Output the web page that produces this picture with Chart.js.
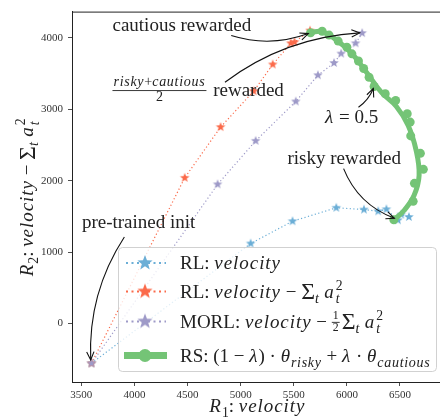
<!DOCTYPE html>
<html>
<head>
<meta charset="utf-8">
<script src="https://cdn.jsdelivr.net/npm/chart.js@4.4.0/dist/chart.umd.min.js"></script>
<style>
  html, body { margin: 0; padding: 0; background: #fff; overflow: hidden; width: 440px; height: 418px; }
  #wrap { width: 448px; height: 418px; }
</style>
</head>
<body>
<div id="wrap"><canvas id="chart" width="448" height="418"></canvas></div>
<script>
// values
const xTicks = [3500, 4000, 4500, 5000, 5500, 6000, 6500]
const yTicks = [0, 1000, 2000, 3000, 4000]

// RL: velocity
const rlX = [3595, 5094, 5488, 5900, 6161, 6295, 6372, 6481, 6512, 6584]
const rlY = [-560, 1119, 1431, 1620, 1594, 1571, 1599, 1445, 1524, 1491]
// RL: velocity - sum a^2
const penX = [3595, 4473, 4811, 5122, 5302, 5472, 5507, 5653]
const penY = [-560, 2039, 2750, 3253, 3627, 3924, 3941, 4102]
// MORL: velocity - 1/2 sum a^2
const morlX = [3595, 4783, 5141, 5519, 5727, 5879, 5946, 6082, 6144]
const morlY = [-560, 1948, 2557, 3109, 3477, 3648, 3780, 3924, 4067]
// RS: interpolated weights, evaluated points
const rsX = [5658, 5767, 5832, 5918, 6000, 6047, 6109, 6158, 6209, 6256, 6361, 6459, 6568, 6596, 6601, 6692, 6720, 6636, 6624, 6442]
const rsY = [4070, 4092, 4039, 3955, 3869, 3776, 3676, 3571, 3449, 3319, 3217, 3123, 2937, 2820, 2627, 2382, 2158, 1962, 1710, 1452]
// RS: smooth curve
const rsCurveX = [5656, 5767, 5907, 6047, 6186, 6326, 6466, 6577, 6652, 6680, 6633, 6540, 6438]
const rsCurveY = [4074, 4088, 3962, 3780, 3515, 3235, 3039, 2773, 2424, 2074, 1795, 1585, 1445]

const BLUE = '#6baed6', RED = '#fb6a4a', PURPLE = '#9e9ac8', GREEN = '#74c476'
const SERIF = '"Liberation Serif", "DejaVu Serif", serif'
const TXT = 19

const pts = (xs, ys) => xs.map((x, i) => ({x: x, y: ys[i]}))

function makeStar (color, r) {
    const c = document.createElement('canvas')
    c.width = c.height = Math.ceil(2 * r + 2)
    const g = c.getContext('2d')
    g.translate(c.width / 2, c.height / 2)
    g.beginPath()
    for (let i = 0; i < 10; i++) {
        const rr = i % 2 ? r * 0.42 : r
        const a = -Math.PI / 2 + i * Math.PI / 5
        g.lineTo(rr * Math.cos(a), rr * Math.sin(a))
    }
    g.closePath()
    g.fillStyle = color
    g.fill()
    return c
}

// rich text: roman, italic, subscripts, stacked sup/sub, small fractions
function runs (ctx, list, x, y, size, draw) {
    const x0 = x
    for (const r of list) {
        if (r.k === 'frac') {
            const s = size * r.scale
            const wn = runs(ctx, r.num, 0, 0, s, false)
            const wd = runs(ctx, r.den, 0, 0, s, false)
            const w = Math.max(wn, wd) + 2
            if (draw) {
                const bar = y - 0.27 * size
                runs(ctx, r.num, x + (w - wn) / 2, bar - 0.3 * s, s, true)
                runs(ctx, r.den, x + (w - wd) / 2, bar + 0.75 * s, s, true)
                ctx.save()
                ctx.strokeStyle = ctx.fillStyle
                ctx.lineWidth = 0.9
                ctx.beginPath()
                ctx.moveTo(x, bar)
                ctx.lineTo(x + w, bar)
                ctx.stroke()
                ctx.restore()
            }
            x += w + 2
            continue
        }
        if (r.k === 'ss') {
            ctx.font = (size * 0.72) + 'px ' + SERIF
            const w = Math.max(ctx.measureText(r.sup).width, ctx.measureText(r.sub).width)
            if (draw) {
                ctx.fillText(r.sup, x + 1, y - 0.42 * size)
                ctx.font = 'italic ' + (size * 0.72) + 'px ' + SERIF
                ctx.fillText(r.sub, x + 1, y + 0.3 * size)
            }
            x += w + 2
            continue
        }
        let s = size, dy = 0, it = false
        if (r.k === 'i') it = true
        if (r.k === 'isub') { it = true; s = size * 0.74; dy = 0.28 * size }
        if (r.k === 'sub') { s = size * 0.72; dy = 0.25 * size }
        if (r.k === 'sum') { s = size * 1.25; dy = 0.1 * size }
        ctx.font = (it ? 'italic ' : '') + s + 'px ' + SERIF
        const t = r.k === 'sum' ? 'Σ' : r.t
        const sp = it ? 0.05 * s : 0
        ctx.letterSpacing = '0px'
        const w = ctx.measureText(t).width + sp * t.length
        if (draw) {
            ctx.letterSpacing = sp + 'px'
            ctx.fillText(t, x, y + dy)
            ctx.letterSpacing = '0px'
        }
        x += w
    }
    return x - x0
}

const sumA2 = [{k: 'sum'}, {k: 'isub', t: 't'}, {k: 'r', t: ' '}, {k: 'i', t: 'a'}, {k: 'ss', sup: '2', sub: 't'}]

const legendItems = [
    {color: BLUE, star: true, y: 269, text: [{k: 'r', t: 'RL: '}, {k: 'i', t: 'velocity'}]},
    {color: RED, star: true, y: 297.5, text: [{k: 'r', t: 'RL: '}, {k: 'i', t: 'velocity'}, {k: 'r', t: ' − '}].concat(sumA2)},
    {color: PURPLE, star: true, y: 327.5, text: [{k: 'r', t: 'MORL: '}, {k: 'i', t: 'velocity'}, {k: 'r', t: ' − '},
        {k: 'frac', scale: 0.62, num: [{k: 'r', t: '1'}], den: [{k: 'r', t: '2'}]}].concat(sumA2)},
    {color: GREEN, star: false, y: 361.5, text: [{k: 'r', t: 'RS: (1 − '}, {k: 'i', t: 'λ'}, {k: 'r', t: ') · '},
        {k: 'i', t: 'θ'}, {k: 'isub', t: 'risky'}, {k: 'r', t: ' + '}, {k: 'i', t: 'λ'}, {k: 'r', t: ' · '},
        {k: 'i', t: 'θ'}, {k: 'isub', t: 'cautious'}]}
]

// annotations in data units
const labels = [
    {x: 3793, y: 4102, text: [{k: 'r', t: 'cautious rewarded'}]},
    {x: 3793, y: 3190, text: [{k: 'frac', scale: 0.74, num: [{k: 'i', t: 'risky'}, {k: 'r', t: '+'}, {k: 'i', t: 'cautious'}], den: [{k: 'r', t: '2'}]},
        {k: 'r', t: ' rewarded'}]},
    {x: 5795, y: 2801, text: [{k: 'i', t: 'λ'}, {k: 'r', t: ' = 0.5'}]},
    {x: 5441, y: 2240, text: [{k: 'r', t: 'risky rewarded'}]},
    {x: 3505, y: 1333, text: [{k: 'r', t: 'pre-trained init'}]}
]
const arrows = [
    {from: [4911, 4032], to: [5637, 4060], rad: 0.17},
    {from: [4852, 3379], to: [6121, 4070], rad: -0.15},
    {from: [6109, 3029], to: [6249, 3291], rad: 0.15},
    {from: [5969, 2168], to: [6447, 1473], rad: 0.22},
    {from: [3905, 1211], to: [3588, -513], rad: 0.16}
]

function drawArrow (ctx, p0, p1, rad) {
    const dx = p1.x - p0.x, dy = p1.y - p0.y
    const cx = (p0.x + p1.x) / 2 - rad * dy, cy = (p0.y + p1.y) / 2 + rad * dx
    ctx.beginPath()
    ctx.moveTo(p0.x, p0.y)
    ctx.quadraticCurveTo(cx, cy, p1.x, p1.y)
    ctx.stroke()
    const a = Math.atan2(p1.y - cy, p1.x - cx), L = 9, sp = 0.42
    ctx.beginPath()
    ctx.moveTo(p1.x - L * Math.cos(a - sp), p1.y - L * Math.sin(a - sp))
    ctx.lineTo(p1.x, p1.y)
    ctx.lineTo(p1.x - L * Math.cos(a + sp), p1.y - L * Math.sin(a + sp))
    ctx.stroke()
}

const overlay = {
    id: 'overlay',
    afterDraw (chart) {
        const ctx = chart.ctx, a = chart.chartArea
        const sx = chart.scales.x, sy = chart.scales.y
        const P = (v) => ({x: sx.getPixelForValue(v[0]), y: sy.getPixelForValue(v[1])})
        ctx.save()
        // top and right spines
        ctx.strokeStyle = '#222'
        ctx.lineWidth = 1
        ctx.beginPath()
        ctx.moveTo(a.left, a.top + 0.5)
        ctx.lineTo(a.right - 0.5, a.top + 0.5)
        ctx.lineTo(a.right - 0.5, a.bottom)
        ctx.stroke()

        ctx.fillStyle = '#222'
        ctx.strokeStyle = '#111'
        ctx.lineWidth = 1.1
        labels.forEach(l => runs(ctx, l.text, sx.getPixelForValue(l.x), sy.getPixelForValue(l.y), TXT, true))
        arrows.forEach(r => drawArrow(ctx, P(r.from), P(r.to), r.rad))

        // axis titles
        const xt = [{k: 'i', t: 'R'}, {k: 'sub', t: '1'}, {k: 'r', t: ': '}, {k: 'i', t: 'velocity'}]
        const wx = runs(ctx, xt, 0, 0, 19, false)
        runs(ctx, xt, (a.left + a.right) / 2 - wx / 2, 412, 19, true)
        const yt = [{k: 'i', t: 'R'}, {k: 'sub', t: '2'}, {k: 'r', t: ': '}, {k: 'i', t: 'velocity'}, {k: 'r', t: ' − '}].concat(sumA2)
        const wy = runs(ctx, yt, 0, 0, 19, false)
        ctx.save()
        ctx.translate(33, (a.top + a.bottom) / 2)
        ctx.rotate(-Math.PI / 2)
        runs(ctx, yt, -wy / 2, 0, 19, true)
        ctx.restore()

        // legend
        ctx.beginPath()
        ctx.roundRect(118.5, 247.5, 318, 124, 4)
        ctx.fillStyle = 'rgba(255,255,255,0.8)'
        ctx.fill()
        ctx.strokeStyle = 'rgba(204,204,204,0.9)'
        ctx.lineWidth = 1
        ctx.stroke()
        legendItems.forEach(it => {
            const cy = it.y - 6
            ctx.strokeStyle = it.color
            if (it.star) {
                ctx.lineWidth = 2
                ctx.setLineDash([2, 3.5])
                ctx.beginPath()
                ctx.moveTo(126, cy)
                ctx.lineTo(166, cy)
                ctx.stroke()
                ctx.setLineDash([])
                const s = makeStar(it.color, 8)
                ctx.drawImage(s, 145 - s.width / 2, cy - s.height / 2)
            } else {
                ctx.lineWidth = 7
                ctx.beginPath()
                ctx.moveTo(124, cy)
                ctx.lineTo(167, cy)
                ctx.stroke()
                ctx.beginPath()
                ctx.arc(145, cy, 6.5, 0, Math.PI * 2)
                ctx.fillStyle = it.color
                ctx.fill()
            }
            ctx.fillStyle = '#222'
            runs(ctx, it.text, 180, it.y, TXT, true)
        })
        ctx.restore()
    }
}

const tickFont = {family: SERIF, size: 11}
const axisGrid = {drawOnChartArea: false, drawTicks: true, tickLength: 4, color: '#222', tickWidth: 0.8}

new Chart(document.getElementById('chart'), {
    type: 'scatter',
    data: {
        datasets: [
            {data: pts(rlX, rlY), showLine: true, borderColor: BLUE, borderWidth: 1.2, borderDash: [1.2, 2.4],
                pointStyle: makeStar(BLUE, 5), order: 4},
            {data: pts(penX, penY), showLine: true, borderColor: RED, borderWidth: 1.2, borderDash: [1.2, 2.4],
                pointStyle: makeStar(RED, 5), order: 3},
            {data: pts(morlX, morlY), showLine: true, borderColor: PURPLE, borderWidth: 1.2, borderDash: [1.2, 2.4],
                pointStyle: makeStar(PURPLE, 5), order: 2},
            {data: pts(rsCurveX, rsCurveY), showLine: true, borderColor: GREEN, borderWidth: 5, tension: 0.4,
                pointRadius: 0, order: 1},
            {data: pts(rsX, rsY), showLine: false, backgroundColor: GREEN, borderColor: GREEN, borderWidth: 0,
                pointRadius: 4.5, order: 0}
        ]
    },
    options: {
        responsive: false,
        animation: false,
        layout: {padding: {top: 11, right: 1, left: 0, bottom: 0}},
        plugins: {legend: {display: false}, tooltip: {enabled: false}},
        scales: {
            x: {
                type: 'linear', min: 3412, max: 6903,
                afterBuildTicks: s => { s.ticks = xTicks.map(v => ({value: v})) },
                afterFit: s => { s.height = 36 },
                grid: axisGrid,
                border: {display: true, color: '#222', width: 1},
                ticks: {font: tickFont, color: '#333', padding: 3, maxRotation: 0, callback: v => String(v)}
            },
            y: {
                type: 'linear', min: -821, max: 4368,
                afterBuildTicks: s => { s.ticks = yTicks.map(v => ({value: v})) },
                afterFit: s => { s.width = 72 },
                grid: axisGrid,
                border: {display: true, color: '#222', width: 1},
                ticks: {font: tickFont, color: '#333', padding: 5, callback: v => String(v)}
            }
        }
    },
    plugins: [overlay]
})
</script>
</body>
</html>
